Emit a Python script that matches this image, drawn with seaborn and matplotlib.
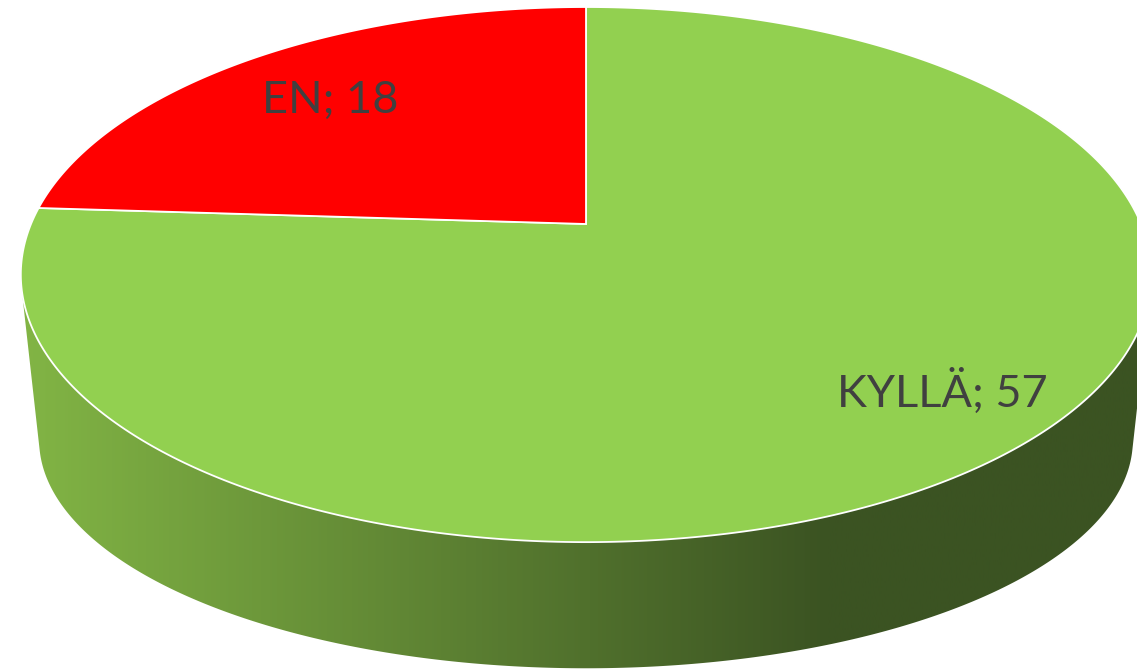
import numpy as np
import matplotlib
matplotlib.use("Agg")
import matplotlib.pyplot as plt
from matplotlib.patches import Polygon
from matplotlib.colors import LinearSegmentedColormap
import seaborn as sns

# data
labels = ["KYLLÄ", "EN"]
values = [57, 18]
colors = ["#92D050", "#FF0000"]

sns.set_theme(style="white")
plt.rcParams["font.family"] = ["Lato", "DejaVu Sans"]

W, H = 1137, 671
cx, cy = 586, 224          # apex of the top face (pixels)
top_w, top_h = 555, 258
persp = 0.189
bot_cy, bot_w, bot_h = 397, 537, 220


def project(u, v, y0, w, h):
    d = 1 - persp * v
    return cx + w * u / d, y0 + h * v / d


def ring(theta, r=1.0, y0=cy, w=top_w, h=top_h):
    t = np.radians(theta)
    return project(-r * np.sin(t), -r * np.cos(t), y0, w, h)


def hull(pts):
    pts = sorted(map(tuple, pts))

    def half(seq):
        out = []
        for p in seq:
            while len(out) >= 2:
                (x1, y1), (x2, y2) = out[-2], out[-1]
                if (x2 - x1) * (p[1] - y1) - (y2 - y1) * (p[0] - x1) <= 0:
                    out.pop()
                else:
                    break
            out.append(p)
        return out

    lo = half(pts)
    up = half(pts[::-1])
    return np.array(lo[:-1] + up[:-1])


fig = plt.figure(figsize=(W / 100, H / 100), dpi=100)
ax = fig.add_axes([0, 0, 1, 1])
ax.set_xlim(0, W)
ax.set_ylim(H, 0)
ax.axis("off")

# side of the disc: hull of top and bottom rims, shaded left to right
th = np.linspace(0, 360, 720)
tx, ty = ring(th)
bx, by = ring(th, y0=bot_cy, w=bot_w, h=bot_h)
side = hull(np.column_stack([np.r_[tx, bx], np.r_[ty, by]]))
side_patch = Polygon(side, closed=True, facecolor="none", edgecolor="none")
ax.add_patch(side_patch)

shade = LinearSegmentedColormap.from_list("side", ["#82B545", "#3B5322"])
xs = np.linspace(0, W, 800)
grad = np.clip((xs - 20) / (830 - 20), 0, 1)
im = ax.imshow(grad[None, :], cmap=shade, extent=(0, W, H, 0),
               aspect="auto", zorder=1)
im.set_clip_path(side_patch)

# top face wedges, clockwise from 12 o'clock
total = sum(values)
start = 0.0
mids = []
for lab, val, col in zip(labels, values, colors):
    span = 360.0 * val / total
    a = np.linspace(start, start - span, 400)
    wx, wy = ring(a)
    poly = np.column_stack([np.r_[cx, wx], np.r_[cy, wy]])
    ax.add_patch(Polygon(poly, closed=True, facecolor=col,
                         edgecolor="white", linewidth=1.3, zorder=2))
    mids.append(start - span / 2)
    start -= span

# data labels
label_r = [0.79, 0.743]
for lab, val, mid, r in zip(labels, values, mids, label_r):
    x, y = ring(mid, r=r)
    if lab == "KYLLÄ":
        x += 20
    ax.text(x, y + 16, f"{lab}; {val}", ha="center", va="baseline",
            fontsize=32.5, color="#404040", zorder=3)

fig.savefig("out.png", dpi=100)
